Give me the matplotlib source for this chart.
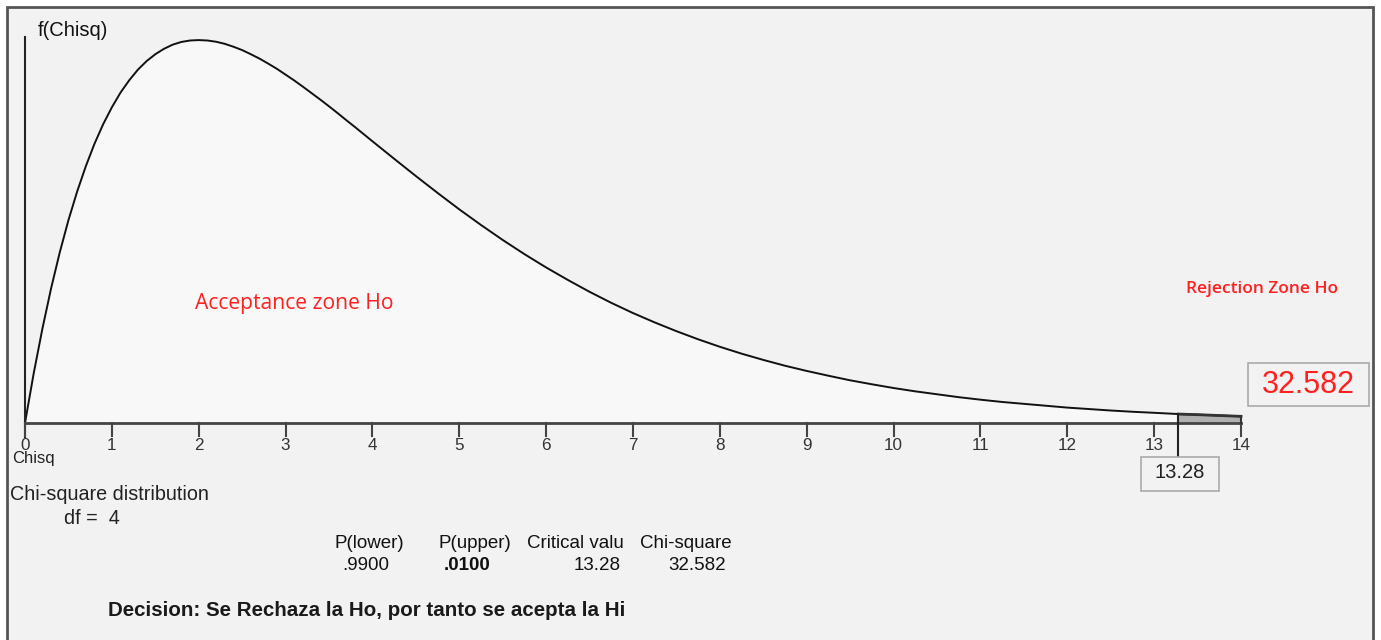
import matplotlib
matplotlib.use("Agg")
import matplotlib.pyplot as plt
from matplotlib.patches import Rectangle

# chi-square density, df = 4
chi_x = [0, 0.1, 0.2, 0.3, 0.4, 0.5, 0.6, 0.7, 0.8, 0.9, 1.0, 1.1, 1.2, 1.3, 1.4,
         1.5, 1.6, 1.7, 1.8, 1.9, 2.0, 2.1, 2.2, 2.3, 2.4, 2.5, 2.6, 2.7, 2.8, 2.9,
         3.0, 3.1, 3.2, 3.3, 3.4, 3.5, 3.6, 3.7, 3.8, 3.9, 4.0,
         4.25, 4.5, 4.75, 5.0, 5.25, 5.5, 5.75, 6.0, 6.25, 6.5, 6.75, 7.0, 7.25,
         7.5, 7.75, 8.0, 8.25, 8.5, 8.75, 9.0, 9.25, 9.5, 9.75, 10.0, 10.25, 10.5,
         10.75, 11.0, 11.25, 11.5, 11.75, 12.0, 12.25, 12.5, 12.75, 13.0, 13.28,
         13.5, 13.75, 14.0]
chi_y = [0, 0.0238, 0.0452, 0.0646, 0.0819, 0.0974, 0.1111, 0.1233, 0.1341, 0.1435,
         0.1516, 0.1587, 0.1646, 0.1697, 0.1738, 0.1771, 0.1797, 0.1817, 0.1830,
         0.1837, 0.1839, 0.1837, 0.1831, 0.1821, 0.1807, 0.1791, 0.1771, 0.1750,
         0.1726, 0.1701, 0.1673, 0.1645, 0.1615, 0.1584, 0.1553, 0.1521, 0.1488,
         0.1454, 0.1421, 0.1387, 0.1353,
         0.1269, 0.1186, 0.1105, 0.1026, 0.0951, 0.0879, 0.0811, 0.0747, 0.0687,
         0.0630, 0.0577, 0.0528, 0.0483, 0.0441, 0.0402, 0.0366, 0.0333, 0.0303,
         0.0275, 0.0250, 0.0227, 0.0205, 0.0186, 0.0168, 0.0152, 0.0138, 0.0124,
         0.0112, 0.0101, 0.0092, 0.0083, 0.0074, 0.0067, 0.0060, 0.0054, 0.0049,
         0.0043, 0.0040, 0.0036, 0.0032]

ticks = list(range(0, 15))
critical = 13.28
chi_square = 32.582
df_val = 4
col_heads = ["P(lower)", "P(upper)", "Critical valu", "Chi-square"]
col_vals = [".9900", ".0100", "13.28", "32.582"]

W, H = 1381, 640
fig = plt.figure(figsize=(W / 100, H / 100), dpi=100)
fig.patch.set_facecolor("white")


def fx(px):
    return px / W


def fy(py):
    return 1 - py / H


# frame
fig.patches.append(Rectangle((fx(7), fy(645)), fx(1373) - fx(7), fy(7) - fy(645),
                             transform=fig.transFigure, facecolor="#f2f2f2",
                             edgecolor="#555555", linewidth=2, zorder=-2))

# axes in data units, 0 -> px 25, 14 -> px 1241, baseline px 423, peak px 40
ux = (1241 - 25) / 14.0
uy = (423 - 40) / 0.18394
ax = fig.add_axes([0, 0, 1, 1])
ax.set_zorder(1)
ax.set_xlim(-25 / ux, (W - 25) / ux)
ax.set_ylim(-(H - 423) / uy, 423 / uy)
ax.axis("off")
ax.patch.set_alpha(0)

acc_x = [x for x in chi_x if x <= critical]
acc_y = chi_y[:len(acc_x)]
rej_x = [x for x in chi_x if x >= critical]
rej_y = chi_y[len(chi_x) - len(rej_x):]

ax.fill_between(acc_x, 0, acc_y, color="#f8f8f8", lw=0, zorder=1)
ax.fill_between(rej_x, 0, rej_y, color="#b0b0b0", lw=0, zorder=1)
ax.plot(chi_x, chi_y, color="#111111", lw=1.4, zorder=3)
ax.plot(rej_x, rej_y, color="#333333", lw=2, zorder=3)

font = "Liberation Sans"

# axes lines
ax.plot([0, 14], [0, 0], color="#444444", lw=2, zorder=4)
ax.plot([0, 0], [-14 / uy, (423 - 37) / uy], color="#222222", lw=1.5, zorder=4)
for t in ticks:
    ax.plot([t, t], [0, -13 / uy], color="#444444", lw=1.5, zorder=4)
    ax.text(t, -22 / uy, str(t), ha="center", va="center", fontsize=12.3,
            family=font, color="#333333")
ax.plot([14, 14], [0, 0.0032], color="#333333", lw=1.5, zorder=4)
ax.plot([critical, critical], [0.0045, -35 / uy], color="#222222", lw=1.5, zorder=5)

fig.text(fx(38), fy(31), "f(Chisq)", fontsize=14.5, family=font, va="center", color="#111111")
fig.text(fx(12), fy(458), "Chisq", fontsize=12, family=font, va="center", color="#222222")
fig.text(fx(10), fy(495), "Chi-square distribution", fontsize=14.2, family=font,
         va="center", color="#222222")
fig.text(fx(64), fy(519), "df =  %d" % df_val, fontsize=14.2, family=font, va="center",
         color="#222222")

fig.text(fx(294), fy(303), "Acceptance zone Ho", fontsize=15.2, family="Open Sans",
         color="#ff2020", ha="center", va="center")
fig.text(fx(1262), fy(289), "Rejection Zone Ho", fontsize=12.5, family="Open Sans",
         weight="semibold", color="#ff2020", ha="center", va="center")

# value boxes
box1 = Rectangle((fx(1141), fy(491)), fx(1219) - fx(1141), fy(457) - fy(491),
                 transform=fig.transFigure, facecolor="#f2f2f2",
                 edgecolor="#aaaaaa", linewidth=1.2, zorder=2)
fig.patches.append(box1)
fig.text(fx(1180), fy(473), "%.2f" % critical, fontsize=14.5, family=font,
         ha="center", va="center", color="#222222", zorder=6)
box2 = Rectangle((fx(1248), fy(406)), fx(1369) - fx(1248), fy(363) - fy(406),
                 transform=fig.transFigure, facecolor="#f2f2f2",
                 edgecolor="#aaaaaa", linewidth=1.2, zorder=2)
fig.patches.append(box2)
fig.text(fx(1308), fy(385), "%.3f" % chi_square, fontsize=22, family=font,
         ha="center", va="center", color="#ff2020", zorder=6)

# results table
head_x = [369, 475, 575, 686]
val_x = [366, 467, 621, 726]
val_ha = ["center", "center", "right", "right"]
for i in range(4):
    fig.text(fx(head_x[i]), fy(544), col_heads[i], fontsize=13.5, family=font,
             ha="center", va="center", color="#111111")
    fig.text(fx(val_x[i]), fy(566), col_vals[i], fontsize=13.5, family=font,
             ha=val_ha[i], va="center", color="#111111",
             weight="bold" if i == 1 else "normal")

fig.text(fx(108), fy(611), "Decision: Se Rechaza la Ho, por tanto se acepta la Hi",
         fontsize=14.8, family=font, weight="bold", va="center", color="#1a1a1a")

fig.savefig("out.png", dpi=100)
